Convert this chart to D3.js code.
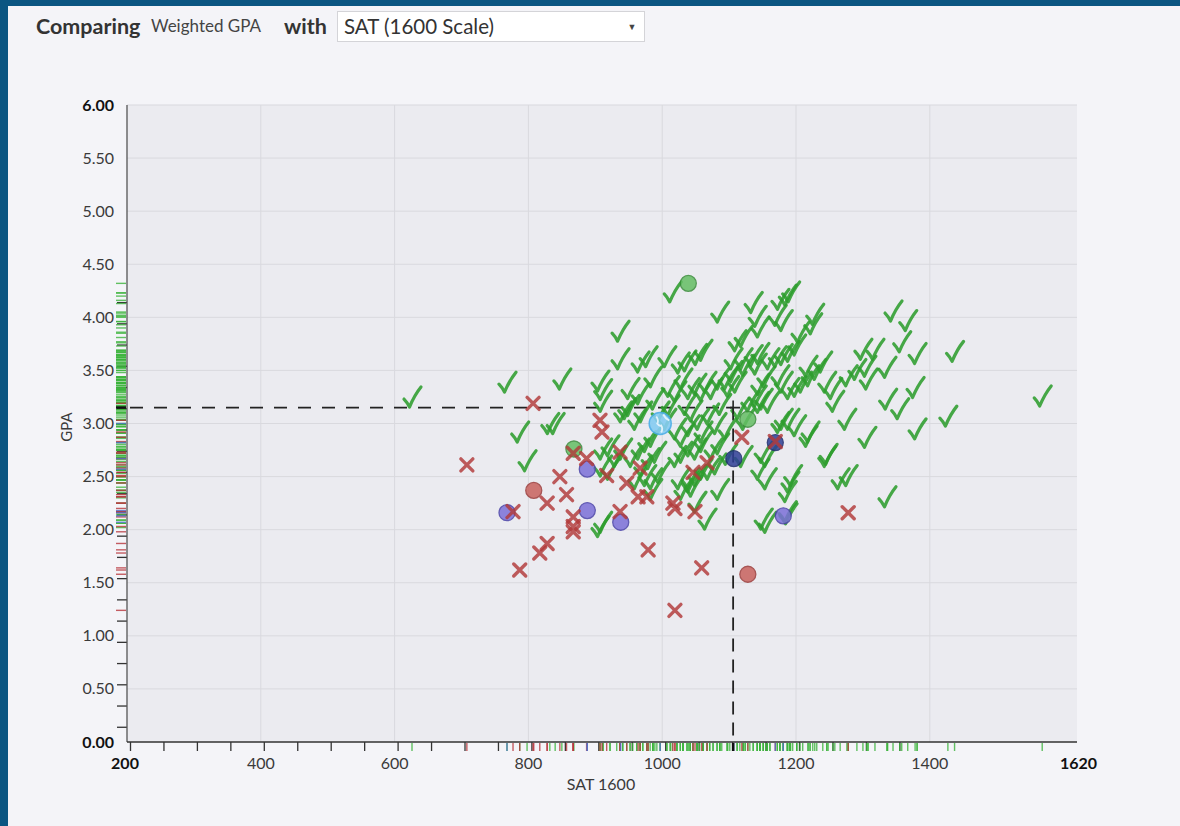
<!DOCTYPE html>
<html>
<head>
<meta charset="utf-8">
<script src="https://cdn.jsdelivr.net/npm/d3@7"></script>
<style>
    body { margin: 0; background: #0b5682; font-family: Lato, "Open Sans", sans-serif; }
    #chart { position: absolute; left: 0; top: 0; width: 1180px; height: 826px; }
</style>
</head>
<body>
<div id="chart"></div>
<script>
// ---- data (SAT 1600, GPA) ----
const accepted = [
    [1015,4.23],[1086,4.04],[1136,4.13],[1142,4.00],[1146,3.90],[1176,4.16],[1187,4.20],[1192,4.23],[1172,4.01],
    [1181,3.96],[1228,4.02],[1225,3.93],[1345,4.05],[1367,3.96],[937,3.86],[1112,3.77],[1121,3.81],
    [937,3.60],[967,3.57],[979,3.62],[1007,3.62],[1027,3.56],[1037,3.58],[1053,3.64],[1061,3.68],[1106,3.60],
    [1121,3.60],[1136,3.63],[1146,3.65],[1161,3.60],[1172,3.62],[1181,3.64],[1191,3.67],[1201,3.73],[1206,3.85],
    [1300,3.69],[1318,3.69],[1358,3.76],[1381,3.65],[1437,3.67],[1106,3.48],[1124,3.54],[1142,3.55],[1218,3.53],
    [768,3.38],[850,3.41],[626,3.24],[907,3.39],[911,3.31],[911,3.20],[986,3.43],[1012,3.34],[1022,3.29],
    [1031,3.41],[1042,3.32],[1052,3.36],[1061,3.30],[1067,3.38],[1076,3.32],[1086,3.41],[1097,3.41],[1101,3.34],
    [1112,3.38],[1146,3.36],[1155,3.43],[1176,3.44],[1181,3.38],[1191,3.32],[1201,3.34],[1210,3.38],[1221,3.44],
    [1231,3.50],[1240,3.57],[1246,3.38],[1255,3.32],[1278,3.44],[1291,3.50],[1306,3.53],[1308,3.41],[1336,3.52],
    [1378,3.33],[1142,3.25],[1151,3.22],[967,3.27],[952,3.32],
    [1568,3.25],[1258,3.20],[1337,3.22],[1355,3.13],[1276,3.03],[1381,2.94],[1427,3.06],[947,3.13],[941,3.10],
    [952,3.16],[962,3.03],[971,3.10],[997,3.10],[1007,3.03],[1012,3.16],[1022,2.94],[1031,2.87],[1042,2.97],
    [1056,3.03],[1061,2.91],[1071,3.08],[1082,2.99],[1089,3.17],[1097,2.94],[1116,3.13],[1124,3.03],[1131,3.20],
    [1146,3.19],[1161,3.19],[1176,3.00],[1191,3.03],[1201,2.97],[1218,2.87],[1181,3.03],[1221,2.91],[832,2.99],
    [840,2.99],[787,2.91],[1037,3.17],[1046,3.11],[989,3.22],
    [911,2.75],[922,2.78],[932,2.68],[941,2.75],[956,2.68],[967,2.75],[977,2.82],[986,2.87],[971,2.59],
    [982,2.66],[992,2.72],[977,2.50],[986,2.47],[997,2.53],[1027,2.47],[1031,2.37],[1042,2.44],[1052,2.50],
    [1061,2.56],[1022,2.68],[1031,2.72],[1042,2.78],[1052,2.75],[1061,2.82],[922,2.56],[911,2.59],[798,2.64],
    [986,2.37],[1076,2.75],[1086,2.80],[1098,2.70],[1121,2.68],[1151,2.72],[1157,2.68],[1246,2.68],[1248,2.70],
    [1306,2.86],[1266,2.47],[1278,2.50],[1157,2.47],[1195,2.50],[1187,2.35],[1191,2.44],[1336,2.30],[1052,2.25],
    [1042,2.47],[1046,2.40],[1071,2.56],[1082,2.61],[1146,2.56],[1086,2.37],[962,2.47],
    [907,2.02],[911,2.06],[1067,2.09],[1151,2.09],[1187,2.16],[1157,2.06],[1188,2.14]
];
const denied = [
    [708,2.61],[807,3.19],[777,2.17],[828,2.25],[847,2.50],[857,2.33],[867,2.12],[867,2.03],[867,1.98],
    [828,1.87],[817,1.78],[787,1.62],[887,2.67],[867,2.72],[917,2.51],[937,2.73],[937,2.17],[947,2.44],
    [967,2.58],[964,2.31],[977,2.31],[979,1.81],[1016,2.25],[1019,2.20],[1049,2.17],[1046,2.54],[1067,2.63],
    [1059,1.64],[1019,1.24],[1119,2.87],[1169,2.83],[907,3.03],[910,2.92],[1278,2.16]
];
const enrolledAccepted = [[1039,4.32],[868,2.76],[1128,3.04]];
const enrolledDenied = [[808,2.37],[1128,1.58]];
const waitlisted = [[768,2.16],[888,2.57],[888,2.18],[938,2.07],[1181,2.13]];
const waitlistDecided = [[1107,2.67],[1169,2.82]];
const other = [[997,3.00]];
const you = { sat: 1106, gpa: 3.15 };

const satLabels = [200, 400, 600, 800, 1000, 1200, 1400, 1620];
const gpaLabels = [0, 0.5, 1, 1.5, 2, 2.5, 3, 3.5, 4, 4.5, 5, 5.5, 6];
const satGrid = [400, 600, 800, 1000, 1200, 1400];
const satMinor = d3.range(200, 1351, 50);
const gpaMinor = d3.range(0.2, 4.3, 0.2);

const colors = {
    accepted: "#2d9d2d",
    denied: "#b23a3a",
    rugAccepted: "#3cb43c",
    rugDenied: "#b8363c",
    rugWait: "#4f6fc8"
};

const svg = d3.select("#chart").append("svg")
    .attr("width", 1180)
    .attr("height", 826);

// page panel inside the dark frame
svg.append("rect").attr("x", 8).attr("y", 6).attr("width", 1172).attr("height", 820).attr("fill", "#f4f4f8");

// header
svg.append("text").attr("x", 36).attr("y", 34)
    .style("font-size", "21.5px").style("font-weight", "bold").style("fill", "#333")
    .text("Comparing");
svg.append("text").attr("x", 151).attr("y", 32)
    .style("font-size", "17px").style("fill", "#444")
    .text("Weighted GPA");
svg.append("text").attr("x", 284).attr("y", 34)
    .style("font-size", "21.5px").style("font-weight", "bold").style("fill", "#333")
    .text("with");
svg.append("rect").attr("x", 337.5).attr("y", 11.5).attr("width", 307).attr("height", 30)
    .attr("fill", "#fff").attr("stroke", "#d4d4d8");
svg.append("text").attr("x", 344).attr("y", 34)
    .style("font-size", "20.5px").style("fill", "#333")
    .text("SAT (1600 Scale)");
svg.append("text").attr("x", 632).attr("y", 30).attr("text-anchor", "middle")
    .style("font-size", "9px").style("fill", "#444")
    .text("▼");

const margin = { left: 127, top: 105 };
const width = 950, height = 637;

const x = d3.scaleLinear().domain([200, 1620]).range([0, width]);
const y = d3.scaleLinear().domain([0, 6]).range([height, 0]);

const g = svg.append("g").attr("transform", `translate(${margin.left},${margin.top})`);

// plot background + grid
g.append("rect").attr("width", width).attr("height", height).attr("fill", "#ebebf0");
g.selectAll(".vgrid").data(satGrid).enter().append("line")
    .attr("x1", d => x(d)).attr("x2", d => x(d)).attr("y1", 0).attr("y2", height)
    .attr("stroke", "#d9d9de").attr("stroke-width", 1);
g.selectAll(".hgrid").data(gpaLabels.slice(1)).enter().append("line")
    .attr("x1", 0).attr("x2", width).attr("y1", d => y(d)).attr("y2", d => y(d))
    .attr("stroke", "#d9d9de").attr("stroke-width", 1);

// minor ticks
g.append("g")
    .attr("transform", `translate(3,${height})`)
    .call(d3.axisBottom(x).tickValues(satMinor).tickSize(9).tickFormat(""))
    .call(a => a.select(".domain").remove())
    .selectAll("line").attr("stroke", "#333").attr("stroke-width", 1.3);
g.append("g")
    .attr("transform", "translate(0,6)")
    .call(d3.axisLeft(y).tickValues(gpaMinor).tickSize(10).tickFormat(""))
    .call(a => a.select(".domain").remove())
    .selectAll("line").attr("stroke", "#333").attr("stroke-width", 1.3);

// rugs
const rugSets = [
    { data: accepted.concat(enrolledAccepted), color: colors.rugAccepted },
    { data: denied.concat(enrolledDenied), color: colors.rugDenied },
    { data: waitlisted.concat(waitlistDecided, other), color: colors.rugWait }
];
rugSets.forEach(s => {
    g.append("g").selectAll("line").data(s.data).enter().append("line")
        .attr("x1", d => x(d[0])).attr("x2", d => x(d[0]))
        .attr("y1", height + 1).attr("y2", height + 9)
        .attr("stroke", s.color).attr("stroke-width", 1.4).attr("opacity", 0.8);
    g.append("g").selectAll("line").data(s.data).enter().append("line")
        .attr("x1", -11).attr("x2", -1)
        .attr("y1", d => y(d[1])).attr("y2", d => y(d[1]))
        .attr("stroke", s.color).attr("stroke-width", 1.4).attr("opacity", 0.8);
});
g.append("line").attr("x1", x(you.sat)).attr("x2", x(you.sat)).attr("y1", height + 1).attr("y2", height + 9)
    .attr("stroke", "#111").attr("stroke-width", 2.5);
g.append("line").attr("x1", -11).attr("x2", -1).attr("y1", y(you.gpa)).attr("y2", y(you.gpa))
    .attr("stroke", "#111").attr("stroke-width", 2.5);

// axis lines
g.append("line").attr("x1", 0).attr("x2", 0).attr("y1", 0).attr("y2", height)
    .attr("stroke", "#555").attr("stroke-width", 1.3);
g.append("line").attr("x1", 0).attr("x2", width).attr("y1", height).attr("y2", height)
    .attr("stroke", "#333").attr("stroke-width", 1.3);

// tick labels
g.selectAll(".xlab").data(satLabels).enter().append("text")
    .attr("x", d => x(d)).attr("y", height + 27)
    .attr("text-anchor", d => d === 1620 ? "end" : "middle")
    .attr("dx", d => d === 1620 ? 20 : (d === 200 ? -2 : 0))
    .style("font-size", "16px")
    .style("font-weight", d => (d === 200 || d === 1620) ? "bold" : "normal")
    .style("fill", d => (d === 200 || d === 1620) ? "#111" : "#3a3a3a")
    .text(d => d);
g.selectAll(".ylab").data(gpaLabels).enter().append("text")
    .attr("x", -13).attr("y", d => y(d) + 5.5)
    .attr("text-anchor", "end")
    .style("font-size", "16px")
    .style("font-weight", d => (d === 0 || d === 6) ? "bold" : "normal")
    .style("fill", d => (d === 0 || d === 6) ? "#111" : "#3a3a3a")
    .text(d3.format(".2f"));

// axis titles
svg.append("text").attr("x", 601).attr("y", 790).attr("text-anchor", "middle")
    .style("font-size", "16px").style("fill", "#3a3a3a").text("SAT 1600");
svg.append("text").attr("transform", "translate(72,427) rotate(-90)").attr("text-anchor", "middle")
    .style("font-size", "15px").style("fill", "#3a3a3a").text("GPA");

// your dashed guides
g.append("line").attr("x1", 3).attr("x2", x(you.sat)).attr("y1", y(you.gpa)).attr("y2", y(you.gpa))
    .attr("stroke", "#222").attr("stroke-width", 1.8).attr("stroke-dasharray", "13 11");
g.append("line").attr("x1", x(you.sat)).attr("x2", x(you.sat)).attr("y1", y(you.gpa)).attr("y2", height)
    .attr("stroke", "#222").attr("stroke-width", 1.8).attr("stroke-dasharray", "13 8");

// markers
const checkPath = "M-8,1 Q-5,4 -2.5,9 Q2.5,-3 9,-11";
g.append("g").selectAll("path").data(accepted).enter().append("path")
    .attr("transform", d => `translate(${x(d[0])},${y(d[1])})`)
    .attr("d", checkPath)
    .attr("fill", "none").attr("stroke", colors.accepted).attr("stroke-width", 3.2)
    .attr("stroke-linecap", "round").attr("stroke-linejoin", "round").attr("opacity", 0.88);

const circleSets = [
    { data: enrolledAccepted, fill: "#64be64", stroke: "#3a8c3a" },
    { data: enrolledDenied, fill: "#c8625e", stroke: "#9c3c3a" },
    { data: waitlisted, fill: "#7c70d8", stroke: "#4a42a8" },
    { data: waitlistDecided, fill: "#2e3f96", stroke: "#1c2a6c" }
];
circleSets.forEach(s => {
    g.append("g").selectAll("circle").data(s.data).enter().append("circle")
        .attr("cx", d => x(d[0])).attr("cy", d => y(d[1])).attr("r", 8)
        .attr("fill", s.fill).attr("stroke", s.stroke).attr("stroke-width", 1.3).attr("opacity", 0.85);
});

const crossPath = "M-6,-6 L6,6 M6,-6 L-6,6";
g.append("g").selectAll("path").data(denied).enter().append("path")
    .attr("transform", d => `translate(${x(d[0])},${y(d[1])})`)
    .attr("d", crossPath)
    .attr("stroke", colors.denied).attr("stroke-width", 3.4).attr("stroke-linecap", "round")
    .attr("opacity", 0.82);

// light blue globe
other.forEach(d => {
    const gg = g.append("g").attr("transform", `translate(${x(d[0])},${y(d[1])})`);
    gg.append("circle").attr("r", 11).attr("fill", "#86ccf2").attr("stroke", "#4aaee8").attr("stroke-width", 1.5).attr("opacity", 0.9);
    gg.append("path").attr("d", "M-4,-7 Q-1,-3 -3,0 Q-1,3 1,2 Q3,5 1,9 M3,-9 Q5,-5 9,-3")
        .attr("fill", "none").attr("stroke", "#eaf6fd").attr("stroke-width", 1.8).attr("opacity", 0.9);
});

// you marker
g.append("path")
    .attr("transform", `translate(${x(you.sat)},${y(you.gpa)})`)
    .attr("d", "M-7,0 L7,0 M0,-7 L0,7")
    .attr("stroke", "#222").attr("stroke-width", 1.6);
</script>
</body>
</html>
